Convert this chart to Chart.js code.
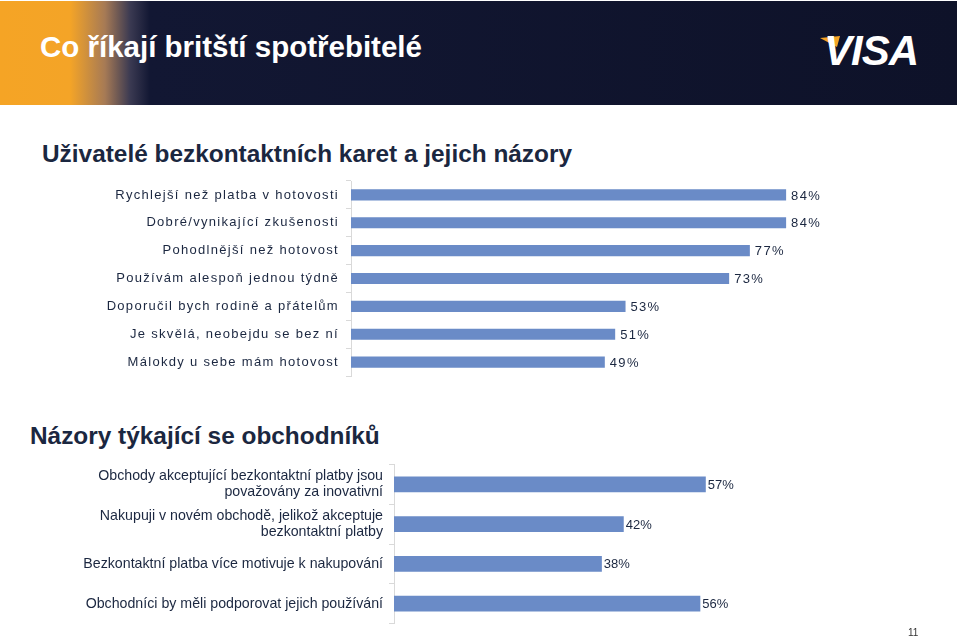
<!DOCTYPE html>
<html lang="cs">
<head>
<meta charset="utf-8">
<title>Co říkají britští spotřebitelé</title>
<script src="https://cdn.jsdelivr.net/npm/chart.js@4.4.1/dist/chart.umd.min.js"></script>
<style>
  html, body { margin: 0; padding: 0; background: #ffffff; }
  body { width: 959px; height: 640px; position: relative; overflow: hidden;
         font-family: "Liberation Sans", Arial, sans-serif; color: #1b2740; }
  .banner { position: absolute; left: 0; top: 1px; width: 957px; height: 104px;
            background: linear-gradient(to right, #f5a425 0px, #f4a427 70px, #a67a55 105px, #3b3a52 130px, #121733 150px, #0e1229 959px); }
  .banner h1 { position: absolute; left: 40px; top: 29px; margin: 0; color: #ffffff;
               font-size: 29.5px; font-weight: bold; }
  .visa { position: absolute; left: 824px; top: 26px; color: #ffffff; font-size: 42px;
          font-weight: bold; font-style: italic; letter-spacing: -1px; }
  .swoosh { position: absolute; left: 820px; top: 35px; }
  h2 { position: absolute; margin: 0; font-size: 24.4px; font-weight: bold; color: #1b2740; }
  .box { position: absolute; left: 0; width: 959px; }
  .page { position: absolute; left: 908px; top: 627px; font-size: 10px; color: #333333; }
</style>
</head>
<body>
<div class="banner">
  <h1>Co říkají britští spotřebitelé</h1>
  <svg class="swoosh" width="22" height="12"><polygon points="0,2 20,0 17,11" fill="#f5a425"/></svg>
  <div class="visa">VISA</div>
</div>

<h2 style="left:42px; top:140px;">Uživatelé bezkontaktních karet a jejich názory</h2>
<div class="box" style="top:170px; height:220px;"><canvas id="chartUzivatele"></canvas></div>

<h2 style="left:30px; top:422px;">Názory týkající se obchodníků</h2>
<div class="box" style="top:455px; height:185px;"><canvas id="chartObchodnici"></canvas></div>

<div class="page">11</div>

<script>
// ==================== DONNÉES ====================

// graphique du haut - utilisateurs
const uzivateleLabels = [
    "Rychlejší než platba v hotovosti",
    "Dobré/vynikající zkušenosti",
    "Pohodlnější než hotovost",
    "Používám alespoň jednou týdně",
    "Doporučil bych rodině a přátelům",
    "Je skvělá, neobejdu se bez ní",
    "Málokdy u sebe mám hotovost"
];
const uzivateleValues = [84, 84, 77, 73, 53, 51, 49];

// graphique du bas - commerçants
const obchodniciLabels = [
    ["Obchody akceptující bezkontaktní platby jsou", "považovány za inovativní"],
    ["Nakupuji v novém obchodě, jelikož akceptuje", "bezkontaktní platby"],
    "Bezkontaktní platba více motivuje k nakupování",
    "Obchodníci by měli podporovat jejich používání"
];
const obchodniciValues = [57, 42, 38, 56];

// ==================== STYLES COMMUNS ====================
const BAR_COLOR = "#6a8bc7";
const TEXT_COLOR = "#1b2740";
const AXIS_COLOR = "#d9d9d9";
const FONT = "'Liberation Sans', Arial, sans-serif";

// petit plugin maison : valeur en % au bout de chaque barre
const valeursPlugin = {
    id: "valeurs",
    afterDatasetsDraw(chart, args, opts) {
        const ctx = chart.ctx;
        const meta = chart.getDatasetMeta(0);
        ctx.save();
        ctx.letterSpacing = opts.spacing || "0px";
        ctx.font = opts.size + "px " + FONT;
        ctx.fillStyle = TEXT_COLOR;
        ctx.textAlign = "left";
        ctx.textBaseline = "middle";
        meta.data.forEach((bar, i) => {
            const v = chart.data.datasets[0].data[i];
            ctx.fillText(v + "%", bar.x + opts.offset, bar.y + 1);
        });
        ctx.restore();
    }
};

// espacement des lettres pour les étiquettes (texte étiré dans l'original)
const espacementPlugin = {
    id: "espacement",
    beforeDraw(chart, args, opts) {
        chart.ctx.letterSpacing = opts.spacing || "0px";
    },
    afterDraw(chart) {
        chart.ctx.letterSpacing = "0px";
    }
};

function creerGraphique(id, labels, values, cfg) {
    return new Chart(document.getElementById(id), {
        type: "bar",
        data: {
            labels: labels,
            datasets: [{
                data: values,
                backgroundColor: BAR_COLOR,
                borderWidth: 0,
                barPercentage: 0.4,
                categoryPercentage: 1.0
            }]
        },
        options: {
            indexAxis: "y",
            responsive: true,
            maintainAspectRatio: false,
            animation: false,
            layout: { padding: cfg.padding },
            plugins: {
                legend: { display: false },
                tooltip: { enabled: false },
                valeurs: { offset: cfg.valueOffset, size: cfg.valueSize, spacing: cfg.spacing },
                espacement: { spacing: cfg.spacing }
            },
            scales: {
                x: { display: false, min: 0, max: 100 },
                y: {
                    afterFit(scale) {
                        scale.width = cfg.axisX;
                        // pas de marge auto pour les étiquettes, on gère avec layout.padding
                        scale.paddingTop = 0;
                        scale.paddingBottom = 0;
                    },
                    border: { display: true, color: AXIS_COLOR, width: 1 },
                    grid: {
                        drawOnChartArea: false,
                        drawTicks: true,
                        tickLength: 5,
                        color: AXIS_COLOR,
                        offset: true
                    },
                    ticks: {
                        color: TEXT_COLOR,
                        padding: cfg.tickPadding,
                        font: { family: FONT, size: cfg.labelSize, lineHeight: 1.15 }
                    }
                }
            }
        },
        plugins: [valeursPlugin, espacementPlugin]
    });
}

creerGraphique("chartUzivatele", uzivateleLabels, uzivateleValues, {
    padding: { left: 0, right: 90, top: 11, bottom: 14 },
    axisX: 351,
    tickPadding: 7,
    labelSize: 13,
    valueSize: 13,
    valueOffset: 5,
    spacing: "1.3px"
});

creerGraphique("chartObchodnici", obchodniciLabels, obchodniciValues, {
    padding: { left: 0, right: 18, top: 9.5, bottom: 16.5 },
    axisX: 394,
    tickPadding: 6,
    labelSize: 14.2,
    valueSize: 13,
    valueOffset: 2,
    spacing: "0px"
});
</script>
</body>
</html>
